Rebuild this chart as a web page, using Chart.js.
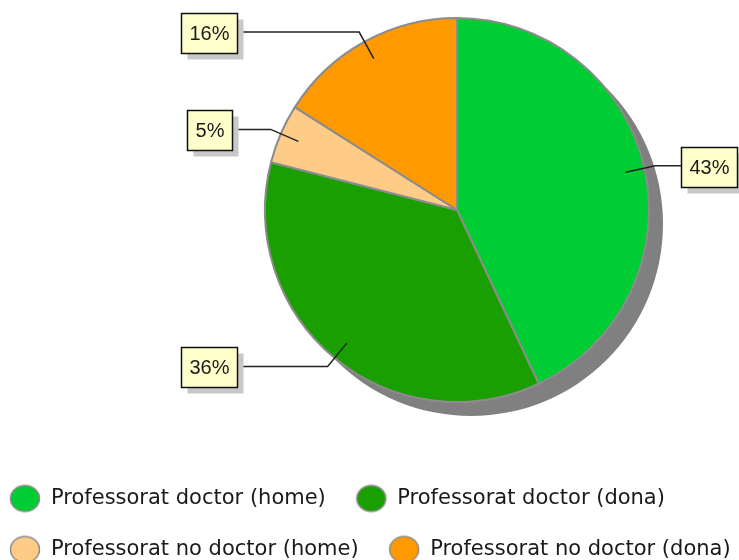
<!DOCTYPE html>
<html>
<head>
<meta charset="utf-8">
<title>Professorat</title>
<script src="https://cdn.jsdelivr.net/npm/chart.js@4.4.1/dist/chart.umd.min.js"></script>
<style>
    body { margin: 0; background: #fff; }
</style>
</head>
<body>
<canvas id="pie" width="739" height="560"></canvas>
<script>
const labels = ['Professorat doctor (home)', 'Professorat doctor (dona)', 'Professorat no doctor (home)', 'Professorat no doctor (dona)'];
const values = [43, 36, 5, 16];
const colors = ['#00cc33', '#1a9f00', '#ffcc88', '#ff9900'];

// legend circles
function dot(color) {
    let c = document.createElement('canvas');
    c.width = 32;
    c.height = 30;
    let g = c.getContext('2d');
    g.beginPath();
    g.ellipse(16, 15, 14.5, 13, 0, 0, Math.PI * 2);
    g.fillStyle = color;
    g.fill();
    g.lineWidth = 1.5;
    g.strokeStyle = '#8c8c8c';
    g.stroke();
    return c;
}
const dots = colors.map(dot);

// the pie sits right of centre, above the legend
const pieBox = {
    id: 'pieBox',
    afterLayout(chart) {
        let r = 192, cx = 457, cy = 210;
        chart.chartArea = { left: cx - r, top: cy - r, right: cx + r, bottom: cy + r, width: 2 * r, height: 2 * r };
    }
};

// grey drop shadow under the pie
const shadow = {
    id: 'shadow',
    beforeDatasetsDraw(chart) {
        let arc = chart.getDatasetMeta(0).data[0];
        let ctx = chart.ctx;
        ctx.save();
        ctx.fillStyle = '#808080';
        ctx.beginPath();
        ctx.arc(arc.x + 14, arc.y + 14, arc.outerRadius, 0, Math.PI * 2);
        ctx.fill();
        ctx.restore();
    }
};

// percentage boxes with leader lines
const callouts = {
    id: 'callouts',
    afterDatasetsDraw(chart) {
        let ctx = chart.ctx;
        let total = values.reduce((a, b) => a + b, 0);
        ctx.save();
        ctx.font = '20px "Liberation Sans"';
        chart.getDatasetMeta(0).data.forEach((arc, i) => {
            let mid = (arc.startAngle + arc.endAngle) / 2;
            let r = arc.outerRadius;
            let cos = Math.cos(mid), sin = Math.sin(mid);
            let x1 = arc.x + cos * r * 0.9, y1 = arc.y + sin * r * 0.9;
            let x2 = arc.x + cos * (r + 11), y2 = arc.y + sin * (r + 11);
            let text = Math.round(values[i] / total * 100) + '%';
            let w = Math.round(ctx.measureText(text).width + 16), h = 40;
            let right = cos >= 0;
            let bx = Math.round(arc.x + (right ? 252 : -248) - w / 2) + 0.5;
            let by = Math.round(y2 - h / 2 + 1) + 0.5;
            let x3 = right ? bx : bx + w;

            ctx.strokeStyle = '#222';
            ctx.lineWidth = 1.5;
            ctx.beginPath();
            ctx.moveTo(x1, y1);
            ctx.lineTo(x2, y2);
            ctx.lineTo(x3, y2);
            ctx.stroke();

            ctx.fillStyle = '#c8c8c8';
            ctx.fillRect(bx + 6, by + 6, w, h);
            ctx.fillStyle = '#ffffcc';
            ctx.fillRect(bx, by, w, h);
            ctx.strokeStyle = '#111';
            ctx.lineWidth = 1.5;
            ctx.strokeRect(bx, by, w, h);

            ctx.fillStyle = '#1a1a1a';
            ctx.textAlign = 'center';
            ctx.textBaseline = 'middle';
            ctx.fillText(text, bx + w / 2, by + h / 2 + 1);
        });
        ctx.restore();
    }
};

new Chart(document.getElementById('pie'), {
    type: 'pie',
    data: {
        labels: labels,
        datasets: [{
            data: values,
            backgroundColor: colors,
            borderColor: '#8c8c8c',
            borderWidth: 2
        }]
    },
    options: {
        responsive: false,
        animation: false,
        radius: 192,
        layout: {
            padding: { left: -20.5, right: -60, top: 0, bottom: -10 }
        },
        plugins: {
            tooltip: { enabled: false },
            legend: {
                position: 'bottom',
                align: 'start',
                labels: {
                    usePointStyle: true,
                    pointStyleWidth: 31,
                    padding: 30,
                    color: '#1a1a1a',
                    font: { family: 'DejaVu Sans', size: 21 },
                    generateLabels(chart) {
                        let items = Chart.overrides.doughnut.plugins.legend.labels.generateLabels(chart);
                        items.forEach((item, i) => item.pointStyle = dots[i]);
                        return items;
                    }
                }
            }
        }
    },
    plugins: [pieBox, shadow, callouts]
});
</script>
</body>
</html>
